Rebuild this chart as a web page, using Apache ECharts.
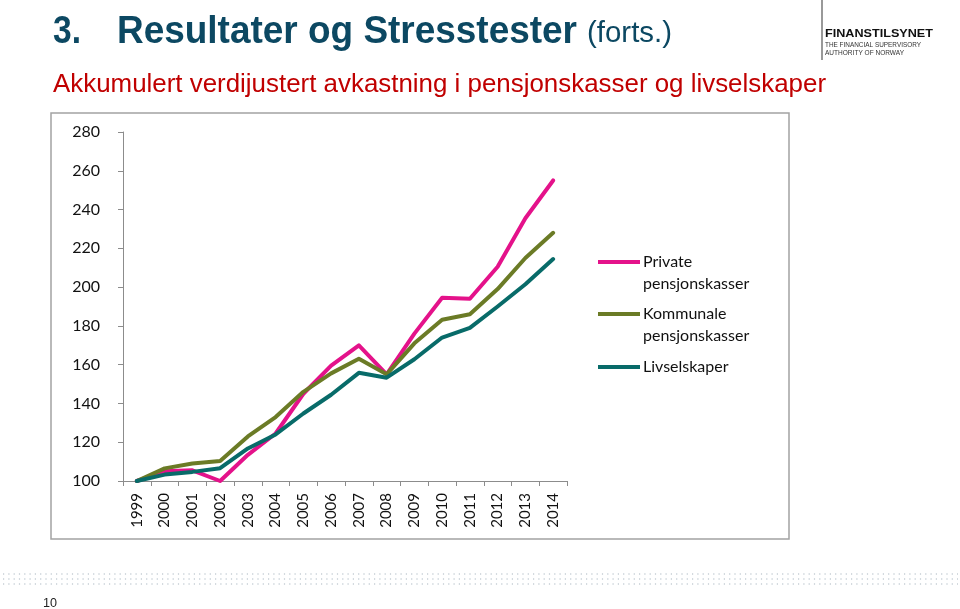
<!DOCTYPE html>
<html>
<head>
<meta charset="utf-8">
<script src="https://cdn.jsdelivr.net/npm/echarts@6/dist/echarts.min.js"></script>
<style>html,body{margin:0;padding:0;background:#fff;}#c{width:960px;height:609px;}</style>
</head>
<body>
<div id="c"></div>
<script>
const years = ['1999','2000','2001','2002','2003','2004','2005','2006','2007','2008','2009','2010','2011','2012','2013','2014'];
const seriesNames = ['Private\npensjonskasser', 'Kommunale\npensjonskasser', 'Livselskaper'];
const privateVals   = [100, 105, 105.5, 100, 113.5, 124.5, 145, 159.5, 170, 155, 176, 194.5, 194, 210.5, 235.5, 255];
const kommunaleVals = [100, 106.5, 109, 110.3, 123, 133, 146, 155.5, 163, 155, 171, 183.2, 186, 199, 215, 228];
const livVals       = [100, 103.3, 104.7, 106.6, 116.8, 124, 134.8, 144.5, 155.8, 153.3, 162.8, 174, 179, 190, 201.5, 214.5];
const yTicks = [100, 120, 140, 160, 180, 200, 220, 240, 260, 280];
const titleMain = 'Resultater og Stresstester';
const titleNum = '3.';
const titleExtra = '(forts.)';
const subtitle = 'Akkumulert verdijustert avkastning i pensjonskasser og livselskaper';
const pageNo = '10';

const colors = ['#E4128A', '#6B7B26', '#086B69'];
const allVals = [privateVals, kommunaleVals, livVals];

const FAM = '"Liberation Sans", Arial, sans-serif';
const mctx = document.createElement('canvas').getContext('2d');
function fit(text, weight, size, w) {
  mctx.font = weight + ' ' + size + 'px ' + FAM;
  return w / mctx.measureText(text).width;
}
function txt(text, x, y, size, weight, color, w) {
  return {type:'text', x:x, y:y, scaleX: w ? fit(text, weight, size, w) : 1,
    style:{text:text, fontSize:size, fontWeight:weight, fontFamily:FAM, fill:color, verticalAlign:'middle', align:'left'}};
}

const chart = echarts.init(document.getElementById('c'));

const graphics = [];
graphics.push({type:'rect', shape:{x:51, y:113, width:738, height:426}, style:{fill:'none', stroke:'#a3a3a3', lineWidth:1.5}, z:-1});
graphics.push(txt(titleNum, 53, 33, 38, 'bold', '#0C4862', 28));
graphics.push(txt(titleMain, 117, 33, 38, 'bold', '#0C4862', 460));
graphics.push(txt(titleExtra, 587, 34, 30, 'normal', '#0C4862', 85));
graphics.push(txt(subtitle, 53, 85, 25, 'normal', '#C00000', 773));
graphics.push({type:'line', shape:{x1:822, y1:0, x2:822, y2:60}, style:{stroke:'#555', lineWidth:1.2}});
graphics.push(txt('FINANSTILSYNET', 825, 34, 11, 'bold', '#111', 108));
graphics.push(txt('THE FINANCIAL SUPERVISORY', 825, 45, 7, 'normal', '#333', 96));
graphics.push(txt('AUTHORITY OF NORWAY', 825, 53, 7, 'normal', '#333', 79));
[574, 579, 584].forEach(function(y){
  graphics.push({type:'line', shape:{x1:3, y1:y, x2:958, y2:y}, style:{stroke:'#a9b6c0', lineWidth:1.2, lineDash:[1.2, 4.1]}});
});
graphics.push(txt(pageNo, 43, 604, 12, 'normal', '#222', 14));
const legY = [262, 314, 367];
seriesNames.forEach(function(n, i){
  graphics.push({type:'line', shape:{x1:598, y1:legY[i], x2:640, y2:legY[i]}, style:{stroke:colors[i], lineWidth:4}});
  n.split('\n').forEach(function(line, j){
    graphics.push({type:'text', x:643, y:legY[i] + j*22, style:{text:line, fontSize:16, fontFamily:'Lato, sans-serif', fill:'#111', verticalAlign:'middle'}});
  });
});

const option = {
  animation: false,
  grid: {left:123, right:393, top:132, bottom:128},
  xAxis: {
    type:'category', data: years, boundaryGap:true,
    axisLine:{lineStyle:{color:'#8c8c8c', width:1}},
    axisTick:{show:true, length:5, lineStyle:{color:'#8c8c8c'}},
    axisLabel:{rotate:90, margin:12, fontFamily:'Lato, sans-serif', fontSize:15, color:'#111', interval:0}
  },
  yAxis: {
    type:'value', min: yTicks[0], max: yTicks[yTicks.length-1], interval: yTicks[1]-yTicks[0],
    splitLine:{show:false},
    axisLine:{show:true, lineStyle:{color:'#8c8c8c', width:1}},
    axisTick:{show:true, length:5, lineStyle:{color:'#8c8c8c'}},
    axisLabel:{margin:23, fontFamily:'Lato, sans-serif', fontSize:16, color:'#111'}
  },
  series: seriesNames.map(function(n, i){
    return {name:n, type:'line', data: allVals[i], symbol:'none', smooth:false,
      lineStyle:{color:colors[i], width:4, join:'round', cap:'round'}, itemStyle:{color:colors[i]}};
  }),
  graphic: graphics
};
chart.setOption(option);
</script>
</body>
</html>
